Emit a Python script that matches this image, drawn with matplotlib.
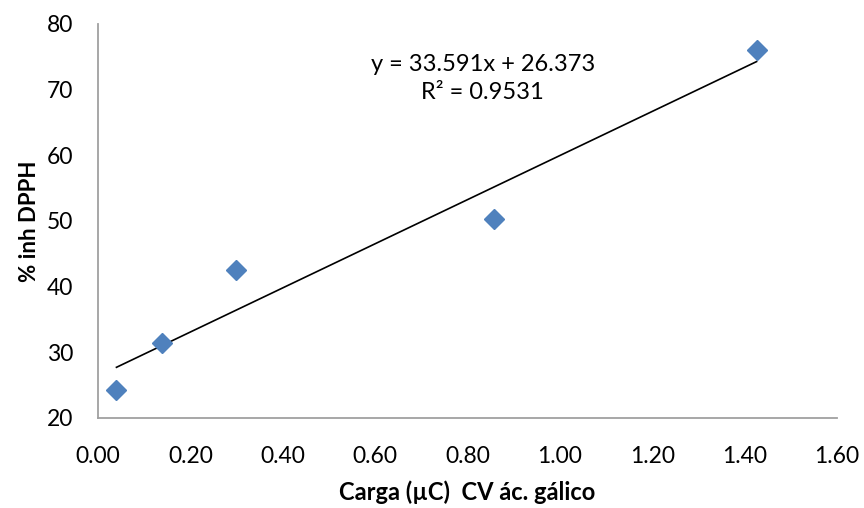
import matplotlib
matplotlib.use("Agg")
import matplotlib.pyplot as plt
import numpy as np

plt.rcParams['font.family'] = ['Lato', 'DejaVu Sans']

carga = [0.040, 0.138, 0.299, 0.858, 1.426]
inh_dpph = [24.2, 31.4, 42.5, 50.3, 76.0]
slope = 33.591
intercept = 26.373
r2 = 0.9531
xticks = [0.00, 0.20, 0.40, 0.60, 0.80, 1.00, 1.20, 1.40, 1.60]
yticks = [20, 30, 40, 50, 60, 70, 80]

fig = plt.figure(figsize=(8.64, 5.08), dpi=100)
ax = fig.add_axes([0.1134, 0.1772, 0.8553, 0.7756])

xs = np.array([min(carga), max(carga)])
ax.plot(xs, slope * xs + intercept, color='black', lw=1.2, zorder=2)
ax.plot(carga, inh_dpph, linestyle='none', marker='D', markersize=10.5,
        color='#4F81BD', markeredgecolor='#4F81BD', zorder=3)

ax.set_xlim(0, 1.6)
ax.set_ylim(20, 80)
ax.set_xticks(xticks)
ax.set_xticklabels([f"{v:.2f}" for v in xticks])
ax.set_yticks(yticks)
ax.tick_params(length=0, labelsize=16.5)
ax.tick_params(axis='x', pad=20)
ax.tick_params(axis='y', pad=18)
for s in ['top', 'right']:
    ax.spines[s].set_visible(False)
for s in ['left', 'bottom']:
    ax.spines[s].set_color('#a0a0a0')
    ax.spines[s].set_linewidth(1.3)

ax.set_xlabel('Carga (µC)  CV ác. gálico', fontsize=17, fontweight='bold', labelpad=10)
ax.set_ylabel('% inh DPPH', fontsize=16, fontweight='bold', labelpad=5)

ax.text(0.833, 71.7, f"y = {slope}x + {intercept}\nR² = {r2}", ha='center', va='center',
        fontsize=17, linespacing=1.45)

fig.savefig('out.png', dpi=100)
